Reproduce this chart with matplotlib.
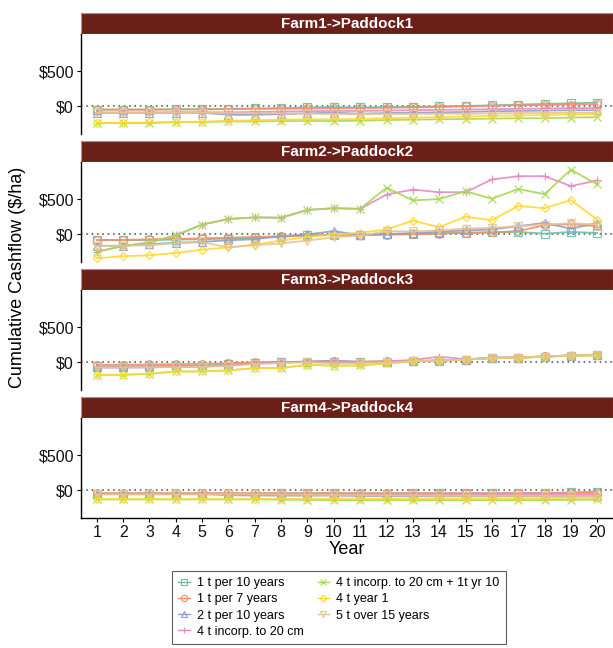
import numpy as np
import matplotlib
matplotlib.use('Agg')
import matplotlib.pyplot as plt
from matplotlib.lines import Line2D

plt.rcParams['font.family'] = ['Liberation Sans', 'DejaVu Sans']

# Data
years = list(range(1, 21))
series_names = ['1 t per 10 years', '1 t per 7 years', '2 t per 10 years',
                '4 t incorp. to 20 cm', '4 t incorp. to 20 cm + 1t yr 10',
                '4 t year 1', '5 t over 15 years']
colors = ['#66C2A5', '#FC8D62', '#8DA0CB', '#E78AC3', '#A6D854', '#FFD92F', '#E5C494']
markers = ['s', 'o', '^', '+', 'x', 'D', 'v']
panel_titles = ['Farm1->Paddock1', 'Farm2->Paddock2', 'Farm3->Paddock3', 'Farm4->Paddock4']

farm1 = [
    [-50, -50, -50, -45, -45, -40, -35, -30, -20, -15, -20, -15, -10, -5, 0, 10, 20, 30, 40, 48],
    [-52, -52, -52, -50, -50, -45, -40, -40, -35, -30, -30, -25, -20, -15, -5, 5, 10, 15, 20, 24],
    [-95, -95, -95, -95, -95, -125, -125, -115, -105, -95, -110, -100, -95, -90, -85, -75, -70, -65, -60, -60],
    [-95, -95, -95, -90, -90, -90, -85, -80, -75, -70, -70, -65, -60, -55, -50, -45, -40, -35, -30, -30],
    [-245, -245, -245, -230, -230, -220, -220, -215, -215, -215, -210, -200, -195, -190, -185, -180, -175, -175, -165, -160],
    [-240, -240, -235, -225, -225, -210, -205, -195, -190, -190, -185, -175, -165, -160, -150, -140, -135, -130, -120, -115],
    [-95, -95, -95, -95, -95, -100, -100, -105, -110, -115, -115, -115, -115, -110, -110, -105, -100, -100, -95, -95],
]

farm2 = [
    [-89, -89, -85, -80, -75, -65, -55, -40, -20, -10, -10, -5, 0, 10, 20, 25, 30, 5, 30, 15],
    [-84, -84, -75, -70, -61, -52, -42, -32, -23, -14, -10, -8, -5, 5, 14, 23, 42, 126, 140, 112],
    [-168, -168, -145, -125, -112, -89, -75, -28, -5, 42, -14, 0, 14, 33, 51, 65, 112, 159, 75, 159],
    [-252, -173, -121, -19, 135, 215, 238, 233, 345, 369, 360, 565, 635, 598, 598, 780, 827, 827, 686, 766],
    [-252, -173, -121, -19, 135, 215, 238, 233, 345, 369, 360, 663, 481, 500, 612, 504, 644, 570, 920, 710],
    [-346, -318, -304, -271, -224, -191, -150, -93, -42, -9, 19, 65, 191, 98, 248, 196, 402, 369, 486, 206],
    [-168, -168, -159, -131, -117, -191, -159, -135, -93, -47, -23, 40, 37, 51, 79, 89, 112, 135, 154, 135],
]

farm3 = [
    [-60, -60, -58, -55, -50, -35, -15, 0, 2, 5, 0, 5, 10, 19, 34, 58, 62, 77, 91, 100],
    [-38, -38, -35, -30, -25, -15, -5, 0, 5, 10, 5, 8, 15, 22, 36, 60, 64, 80, 93, 103],
    [-77, -77, -75, -70, -65, -50, -20, 0, 5, 19, 2, 8, 14, 22, 34, 60, 64, 80, 93, 104],
    [-77, -77, -75, -70, -65, -45, -20, -5, 2, 10, 0, 10, 30, 77, 40, 62, 66, 80, 95, 106],
    [-183, -183, -168, -135, -135, -120, -87, -87, -38, -53, -48, -19, 10, 19, 34, 58, 58, 77, 91, 96],
    [-183, -183, -168, -135, -135, -120, -87, -87, -38, -53, -48, -19, 10, 19, 34, 58, 58, 77, 91, 96],
    [-77, -77, -75, -72, -68, -55, -30, -15, -5, -20, -15, -5, 12, 22, 34, 60, 62, 79, 92, 102],
]

farm4 = [
    [-50, -50, -50, -50, -50, -50, -50, -48, -48, -46, -50, -50, -48, -48, -48, -46, -46, -40, -35, -24],
    [-45, -45, -45, -45, -45, -45, -45, -45, -45, -45, -45, -45, -45, -45, -45, -45, -45, -44, -42, -40],
    [-55, -55, -55, -55, -55, -75, -78, -80, -80, -80, -85, -85, -85, -85, -85, -85, -85, -85, -85, -82],
    [-60, -60, -60, -60, -60, -60, -62, -62, -62, -62, -62, -62, -62, -62, -62, -62, -62, -62, -62, -60],
    [-135, -135, -135, -135, -135, -135, -135, -138, -140, -145, -145, -145, -145, -145, -145, -145, -145, -143, -140, -135],
    [-128, -128, -128, -128, -128, -128, -128, -126, -126, -124, -124, -122, -122, -120, -120, -118, -118, -115, -112, -110],
    [-62, -62, -62, -62, -62, -62, -62, -65, -68, -70, -72, -74, -76, -78, -80, -82, -82, -84, -85, -85],
]

farms = [farm1, farm2, farm3, farm4]

W, H = 613, 648
fig = plt.figure(figsize=(W / 100, H / 100), dpi=100)

left_px, right_px = 81, 613
strip_h, plot_h, block = 21, 100, 128
top0 = 13

for i, farm in enumerate(farms):
    s_top = top0 + i * block
    p_top = s_top + strip_h
    # strip
    sax = fig.add_axes([left_px / W, 1 - (s_top + strip_h) / H,
                        (right_px - left_px) / W, strip_h / H])
    sax.set_facecolor('#6B1F19')
    sax.set_xticks([])
    sax.set_yticks([])
    for sp in sax.spines.values():
        sp.set_color('#D9826A')
        sp.set_linewidth(0.8)
    sax.text(0.5, 0.5, panel_titles[i], color='white', fontsize=11,
             fontweight='bold', ha='center', va='center', transform=sax.transAxes)

    # panel
    ax = fig.add_axes([left_px / W, 1 - (p_top + plot_h) / H,
                       (right_px - left_px) / W, plot_h / H])
    ax.axhline(0, color='#444444', linestyle=(0, (1, 2.5)), linewidth=1.1, zorder=1)
    for k, vals in enumerate(farm):
        ms = 4 if markers[k] == 'D' else 5.5
        ax.plot(years, vals, color=colors[k], linewidth=1.3, alpha=0.9,
                marker=markers[k], markersize=ms, markerfacecolor='none',
                markeredgecolor=colors[k], markeredgewidth=0.9, zorder=2)
    ax.set_xlim(0.4, 20.6)
    ax.set_ylim(-400, 1030)
    ax.set_yticks([0, 500])
    ax.set_yticklabels(['$0', '$500'], fontsize=11.5)
    ax.tick_params(axis='y', length=3, width=0.8, pad=2, labelcolor='#111111')
    for sp in ['top', 'right']:
        ax.spines[sp].set_visible(False)
    ax.spines['left'].set_linewidth(1.0)
    if i < 3:
        ax.spines['bottom'].set_visible(False)
        ax.set_xticks([])
    else:
        ax.spines['bottom'].set_linewidth(1.0)
        ax.set_xticks(years)
        ax.set_xticklabels([str(y) for y in years], fontsize=11.5)
        ax.tick_params(axis='x', length=3, width=0.8, pad=2, labelcolor='#111111')
        ax.set_xlabel('Year', fontsize=13, labelpad=1)

fig.text(18 / W, 1 - 277 / H, 'Cumulative Cashflow ($/ha)', rotation=90,
         fontsize=13, ha='center', va='center')

handles = [Line2D([0], [0], color=colors[k], marker=markers[k], linewidth=1.0,
                  markersize=3.5 if markers[k] == 'D' else 4.5, markerfacecolor='none',
                  markeredgewidth=0.8)
           for k in range(len(series_names))]
leg = fig.legend(handles, series_names, ncol=2, loc='upper left',
                 bbox_to_anchor=(172 / W, 1 - 571 / H), fontsize=9,
                 frameon=True, fancybox=False, edgecolor='#333333',
                 handlelength=0.9, handletextpad=0.6, columnspacing=1.1,
                 labelspacing=0.33, borderpad=0.5, borderaxespad=0)
leg.get_frame().set_linewidth(0.8)

fig.savefig('out.png', dpi=100)
